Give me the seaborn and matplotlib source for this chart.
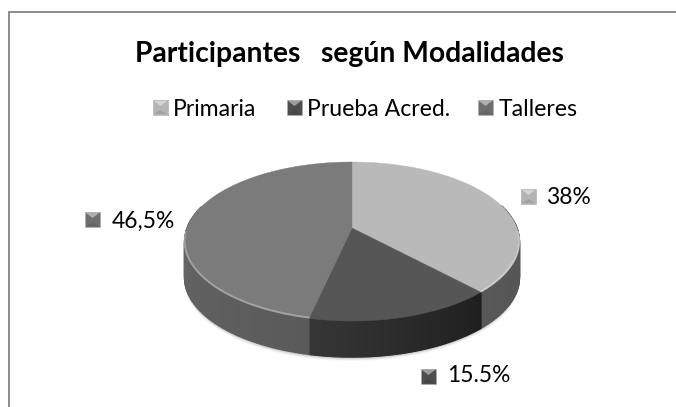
import matplotlib
matplotlib.use('Agg')
import matplotlib.pyplot as plt
from matplotlib.patches import Polygon, Rectangle
from matplotlib.colors import to_rgb
import seaborn as sns
import numpy as np

sns.set_theme(style='white')
plt.rcParams['font.family'] = ['Lato', 'DejaVu Sans']

title = 'Participantes   según Modalidades'
categories = ['Primaria', 'Prueba Acred.', 'Talleres']
values = [38.0, 15.5, 46.5]
value_labels = ['38%', '15.5%', '46,5%']
top_colors = sns.color_palette(['#b9b9b9', '#565656', '#7b7b7b'])
side_colors = [('#4c4c4c', '#585858'), ('#1f1f1f', '#363636'), ('#5a5a5a', '#727272')]
marker_colors = ['#b4b4b4', '#4e4e4e', '#6e6e6e']

W, H = 676, 407
fig = plt.figure(figsize=(W / 100, H / 100), dpi=100)
ax = fig.add_axes([0, 0, 1, 1])
ax.set_xlim(0, W)
ax.set_ylim(H, 0)
ax.axis('off')

# projective circle so the hub sits above the middle of the ellipse
cx, cy, A, B, k, depth = 352, 228, 165, 77.2, 0.17, 36


def rim(theta, r=1.0):
    u, v = r * np.sin(theta), r * np.cos(theta)
    w = 1 + k * v
    return cx + A * u / w, cy - B * v / w


def square(x, y, color):
    s = 15
    ax.add_patch(Rectangle((x, y), s, s, fc=color, ec='#aaaaaa', lw=0.4, zorder=6))
    ax.add_patch(Polygon([(x + 1, y + 1), (x + s - 1, y + 1), (x + s / 2, y + 6)],
                         fc='white', ec='none', alpha=0.45, zorder=7))
    ax.add_patch(Polygon([(x + 1, y + s - 1), (x + s - 1, y + s - 1), (x + s / 2, y + s - 5)],
                         fc='black', ec='none', alpha=0.1, zorder=7))


# frame: left and top only, the picture is cut off right and below
ax.plot([9, 9], [H, 12], color='#8c8c8c', lw=1.4, zorder=1)
ax.plot([9, W], [12, 12], color='#8c8c8c', lw=1.4, zorder=1)

fractions = np.cumsum([0] + values) / sum(values) * 2 * np.pi
t_all = np.linspace(0, 2 * np.pi, 361)

# soft shadow under the disc
for grow, a in zip([4, 3, 2, 1], [0.04, 0.06, 0.08, 0.1]):
    xs, ys = rim(t_all)
    ax.add_patch(Polygon(np.c_[xs, ys + depth + grow], fc='black', ec='none', alpha=a, zorder=2))

# side wall, in strips so it can shade across each slice
for i in range(len(values)):
    t = np.linspace(fractions[i], fractions[i + 1], 120)
    c0 = np.array(to_rgb(side_colors[i][0]))
    c1 = np.array(to_rgb(side_colors[i][1]))
    for j in range(len(t) - 1):
        x, y = rim(t[j:j + 2])
        if np.cos((t[j] + t[j + 1]) / 2) > 0.3:
            continue
        f = j / (len(t) - 2)
        col = c0 + (c1 - c0) * f
        ax.add_patch(Polygon([(x[0], y[0]), (x[1], y[1]), (x[1], y[1] + depth), (x[0], y[0] + depth)],
                             fc=col, ec=col, lw=1.0, zorder=3))

# top face
for i in range(len(values)):
    t = np.linspace(fractions[i], fractions[i + 1], 180)
    x, y = rim(t)
    pts = np.r_[[[cx, cy]], np.c_[x, y]]
    ax.add_patch(Polygon(pts, fc=top_colors[i], ec=top_colors[i], lw=0.3, zorder=4))

# bevel along the front rim of the light slices
for i in [0, 2]:
    t = np.linspace(fractions[i], fractions[i + 1], 180)
    t = t[np.cos(t) < -0.05]
    x, y = rim(t)
    ax.plot(x, y - 0.8, color='white', alpha=0.3, lw=1.4, zorder=5)

# title and legend
ax.text(349, 54, title, ha='center', va='center', fontsize=20.3, fontweight='bold', color='black', zorder=8)
leg_square_x = [153, 287, 478]
leg_text_x = [173, 307, 499]
for name, sx, tx, col in zip(categories, leg_square_x, leg_text_x, marker_colors):
    square(sx, 100, col)
    ax.text(tx, 109, name, ha='left', va='center', fontsize=16.6, color='black', zorder=8)

# value labels
lab_square_x = [521, 421, 85]
lab_square_y = [189, 369, 212]
lab_y = [198, 376, 221]
lab_text_x = [547, 447, 112]
for lab, sx, sy, tx, ly, col in zip(value_labels, lab_square_x, lab_square_y, lab_text_x, lab_y, marker_colors):
    square(sx, sy, col)
    ax.text(tx, ly, lab, ha='left', va='center', fontsize=16.4, color='black', zorder=8)

fig.savefig('out.png', dpi=100, facecolor='white')
